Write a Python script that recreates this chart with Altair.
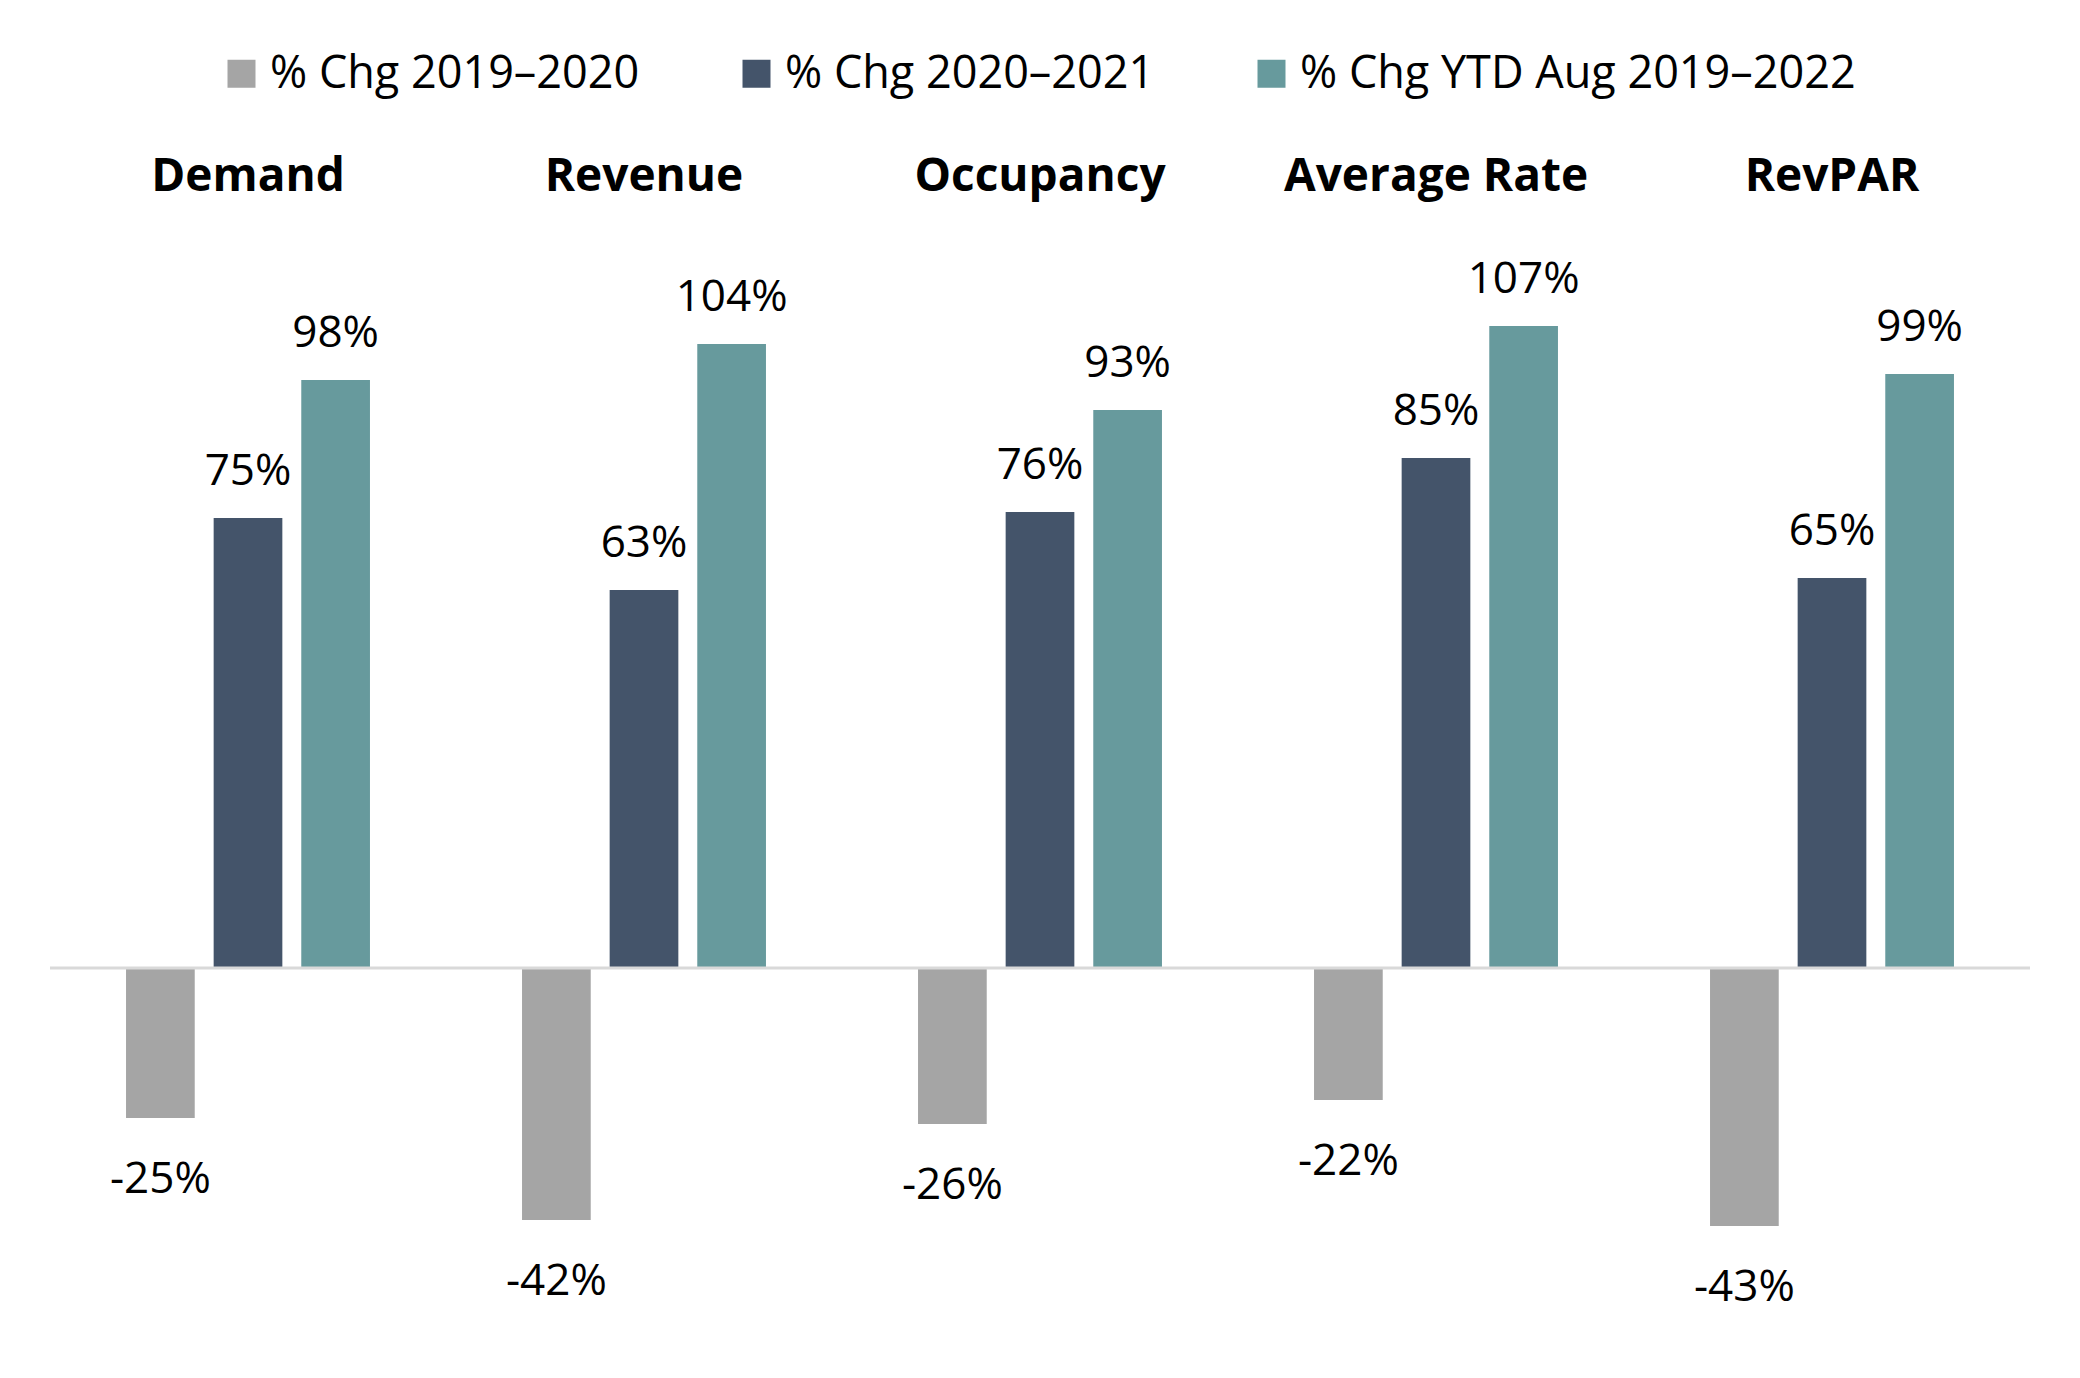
import altair as alt
import pandas as pd

categories = ["Demand", "Revenue", "Occupancy", "Average Rate", "RevPAR"]
series = ["% Chg 2019–2020", "% Chg 2020–2021", "% Chg YTD Aug 2019–2022"]
chg_2019_2020 = [-25, -42, -26, -22, -43]
chg_2020_2021 = [75, 63, 76, 85, 65]
chg_ytd_2019_2022 = [98, 104, 93, 107, 99]
colors = ["#A5A5A5", "#44546A", "#679A9D"]

rows = []
for s, vals in zip(series, [chg_2019_2020, chg_2020_2021, chg_ytd_2019_2022]):
    for c, v in zip(categories, vals):
        rows.append({"category": c, "series": s, "value": v, "label": f"{v}%"})
df = pd.DataFrame(rows)
pos_df = df[df["value"] >= 0]
neg_df = df[df["value"] < 0]
zero_df = pd.DataFrame({"zero": [0]})

FONT = "Open Sans"

x_enc = alt.X(
    "category:N",
    sort=categories,
    scale=alt.Scale(paddingInner=0.384, paddingOuter=0.192),
    axis=alt.Axis(
        orient="top", title=None, ticks=False, domain=False, labelAngle=0,
        labelFont=FONT, labelFontSize=46, labelFontWeight="bold", labelLimit=0,
        labelColor="#000000", labelPadding=24, labelBaseline="middle",
    ),
)
y_scale = alt.Scale(domain=[-60, 128], nice=False)
y_enc = alt.Y("value:Q", scale=y_scale, axis=None)
xoff = alt.XOffset("series:N", sort=series, scale=alt.Scale(paddingInner=0.216, paddingOuter=0))

bars = alt.Chart(df).mark_bar().encode(
    x=x_enc,
    y=y_enc,
    xOffset=xoff,
    color=alt.Color(
        "series:N",
        sort=series,
        scale=alt.Scale(domain=series, range=colors),
        legend=alt.Legend(
            title=None, orient="none", direction="horizontal",
            legendX=169, legendY=-149,
            symbolType="square", symbolSize=784, symbolStrokeWidth=0,
            labelFont=FONT, labelFontSize=45, labelColor="#000000", labelLimit=0,
            labelOffset=6, columnPadding=94,
        ),
    ),
)

zero = alt.Chart(zero_df).mark_rule(color="#D9D9D9", strokeWidth=3).encode(
    y=alt.Y("zero:Q", scale=y_scale, axis=None),
    x=alt.value(0),
    x2=alt.value("width"),
)

pos_text = alt.Chart(pos_df).mark_text(
    font=FONT, fontSize=44, color="#000000", baseline="alphabetic", dy=-33
).encode(x=x_enc, y=y_enc, xOffset=xoff, text="label:N")

neg_text = alt.Chart(neg_df).mark_text(
    font=FONT, fontSize=44, color="#000000", baseline="alphabetic", dy=75
).encode(x=x_enc, y=y_enc, xOffset=xoff, text="label:N")

chart = (
    alt.layer(bars, zero, pos_text, neg_text)
    .properties(
        width=1980, height=1128,
        padding={"left": 42, "top": 192, "right": 30, "bottom": 40},
        autosize=alt.AutoSizeParams(type="none"),
        background="#FFFFFF",
    )
    .configure_view(stroke=None)
)

chart.save("out.html", embed_options={"renderer": "svg", "actions": False})
